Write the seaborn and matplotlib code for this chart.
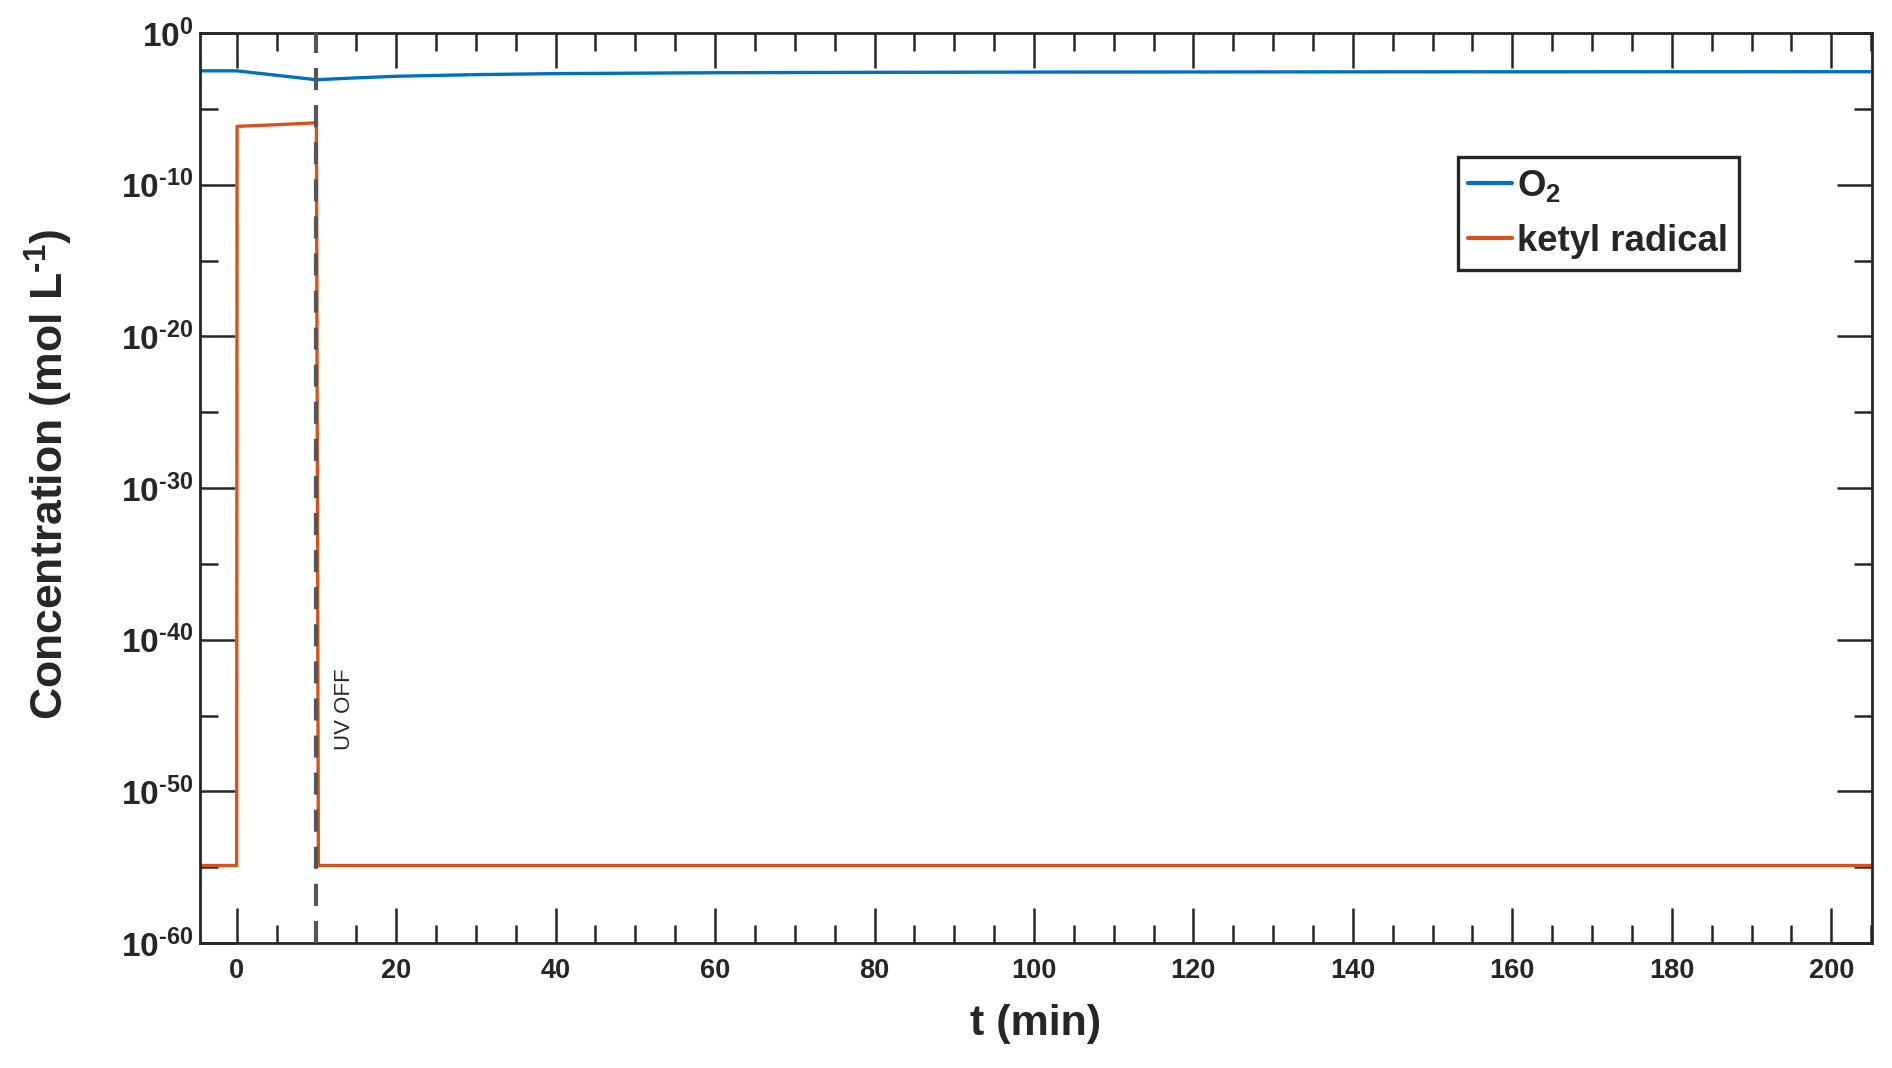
import numpy as np
import pandas as pd
import seaborn as sns
import matplotlib
import matplotlib.pyplot as plt
from matplotlib.ticker import FixedLocator, FuncFormatter, NullFormatter, MultipleLocator

matplotlib.use("Agg")

# O2 concentration (mol/L) vs time (min)
t_o2 = [-5, 0, 10, 15, 20, 30, 40, 60, 80, 100, 140, 205]
o2_conc = [3.2e-3, 3.2e-3, 8.3e-4, 1.1e-3, 1.4e-3, 1.8e-3, 2.1e-3, 2.4e-3, 2.55e-3, 2.65e-3, 2.75e-3, 2.8e-3]

# ketyl radical concentration (mol/L) vs time (min)
t_ketyl = [-5, 0, 0.05, 5, 10, 10.25, 205]
ketyl_conc = [1.3e-55, 1.3e-55, 7e-7, 9e-7, 1.2e-6, 1.3e-55, 1.3e-55]

uv_off_time = 10
y_major = [1e-60, 1e-50, 1e-40, 1e-30, 1e-20, 1e-10, 1e0]
y_minor = [1e-55, 1e-45, 1e-35, 1e-25, 1e-15, 1e-5]

sns.set_theme(style="ticks")
plt.rcParams["font.family"] = ["Liberation Sans", "DejaVu Sans"]
plt.rcParams["mathtext.fontset"] = "custom"
plt.rcParams["mathtext.rm"] = "Liberation Sans:bold"
plt.rcParams["mathtext.bf"] = "Liberation Sans:bold"
plt.rcParams["mathtext.it"] = "Liberation Sans:bold"

dark = "#262626"


def decade_label(v, pos):
    exp = int(round(np.log10(v)))
    if exp < 0:
        return r"$\mathbf{10^{\text{-}%d}}$" % (-exp)
    return r"$\mathbf{10^{%d}}$" % exp


df_o2 = pd.DataFrame({"t": t_o2, "conc": o2_conc})
df_ketyl = pd.DataFrame({"t": t_ketyl, "conc": ketyl_conc})

fig = plt.figure(figsize=(18.92, 10.68), dpi=100)
ax = fig.add_axes([0.1057, 0.1170, 0.8837, 0.8521])

sns.lineplot(data=df_o2, x="t", y="conc", ax=ax, color="#0072BD", lw=2.4,
             estimator=None, sort=False, label=r"$\mathbf{O_2}$")
sns.lineplot(data=df_ketyl, x="t", y="conc", ax=ax, color="#D95319", lw=2.4,
             estimator=None, sort=False, label="ketyl radical")

ax.axvline(uv_off_time, color="#555555", lw=3, dashes=(5.3, 3.6), zorder=5)
ax.text(13.5, 10 ** -44.6, "UV OFF", rotation=90, ha="center", va="center",
        fontsize=16, color=dark)

ax.set_yscale("log")
ax.set_xlim(-4.6, 205.1)
ax.set_ylim(1e-60, 1e0)

ax.xaxis.set_major_locator(MultipleLocator(20))
ax.xaxis.set_minor_locator(MultipleLocator(5))
ax.yaxis.set_major_locator(FixedLocator(y_major))
ax.yaxis.set_minor_locator(FixedLocator(y_minor))
ax.yaxis.set_major_formatter(FuncFormatter(decade_label))
ax.yaxis.set_minor_formatter(NullFormatter())

ax.tick_params(which="both", direction="in", top=True, right=True, color=dark, width=1.8)
ax.tick_params(which="major", length=25)
ax.tick_params(which="minor", length=13)
ax.tick_params(axis="x", which="major", labelsize=19.5, pad=11, labelcolor=dark)
ax.tick_params(axis="y", which="major", labelsize=24, pad=5, labelcolor=dark)
for lab in ax.get_xticklabels():
    lab.set_fontweight("bold")

for sp in ax.spines.values():
    sp.set_linewidth(2)
    sp.set_color(dark)

ax.set_xlabel("t (min)", fontsize=31, fontweight="bold", color=dark, labelpad=14)
ax.set_ylabel(r"Concentration (mol L$^{\mathbf{\text{-}1}}$)", fontsize=32, fontweight="bold",
              color=dark)
ax.yaxis.set_label_coords(-0.0748, 0.5146)

leg = ax.legend(loc="upper right", bbox_to_anchor=(0.9205, 0.8637),
                prop={"weight": "bold", "size": 26.3}, frameon=True, fancybox=False,
                handlelength=1.2, handletextpad=0.13, borderpad=0.3,
                labelspacing=0.55, borderaxespad=0)
leg.get_frame().set_edgecolor(dark)
leg.get_frame().set_linewidth(2.4)
leg.get_frame().set_alpha(1)
for line in leg.get_lines():
    line.set_linewidth(3)

fig.savefig("out.png", dpi=100)
